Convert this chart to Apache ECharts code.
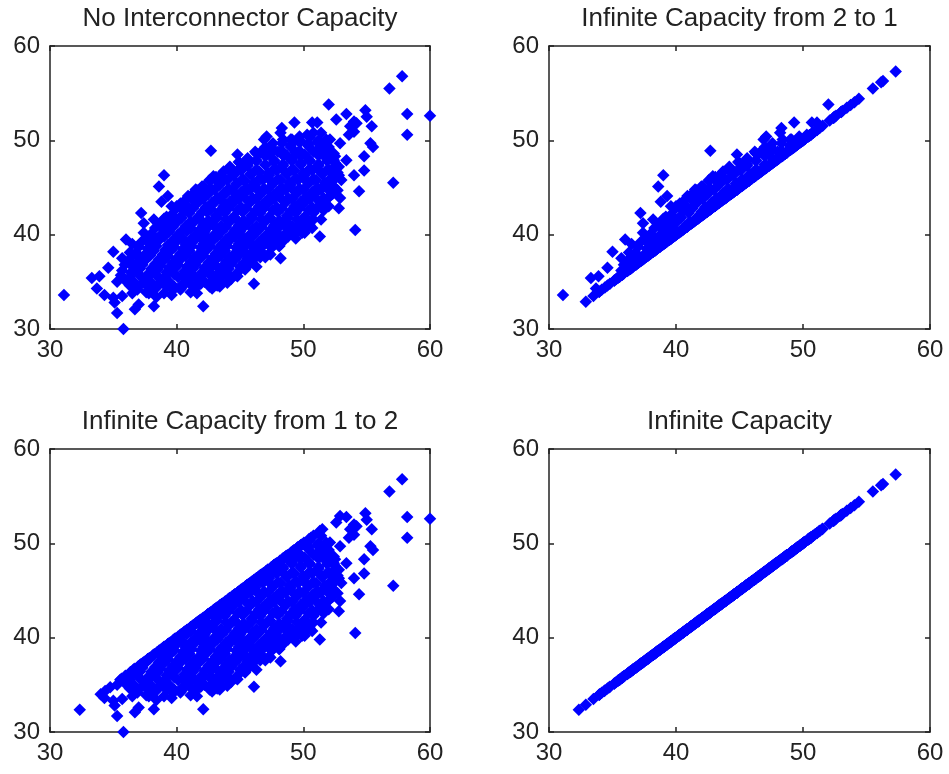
<!DOCTYPE html>
<html>
<head>
<meta charset="utf-8">
<script src="https://cdn.jsdelivr.net/npm/echarts@6/dist/echarts.min.js"></script>
<style>
  html, body { margin: 0; padding: 0; background: #fff; }
  #main { width: 949px; height: 774px; }
</style>
</head>
<body>
<div id="main"></div>
<script>
// price in zone 1 (x) vs price in zone 2 (y)
const samples = [
  // outliers and edge points
  [31.1,33.6],[35.8,30.0],[35.3,31.7],[36.7,32.1],[37.0,32.6],[38.2,32.4],[42.1,32.4],[41.6,33.8],
  [33.3,35.4],[33.9,35.6],[33.7,34.3],[34.3,33.6],[35.0,33.3],[35.1,32.8],[34.6,36.5],[35.0,38.2],
  [36.0,39.5],[36.5,39.0],[37.2,42.3],[37.4,41.2],[38.6,45.1],[39.0,46.3],[38.8,43.5],[39.3,44.1],
  [40.0,43.0],[41.5,44.8],[42.7,48.9],[42.9,46.2],[44.8,48.5],[46.2,48.8],[46.9,50.1],[47.1,50.4],
  [48.3,51.3],[49.3,51.9],[50.7,51.9],[51.1,51.9],[52.0,53.8],[52.6,52.2],[53.4,52.8],[54.0,52.0],
  [54.9,53.2],[55.0,52.5],[55.4,51.5],[56.8,55.5],[57.8,56.8],[58.2,52.8],[58.2,50.6],[60.0,52.6],
  [57.1,45.5],[54.1,40.5],[54.4,44.6],[54.8,46.8],[54.8,48.3],[54.0,46.3],[55.3,49.7],[55.5,49.3],
  [52.8,42.8],[52.9,43.9],[51.4,41.6],[51.3,39.8],[50.7,40.7],[50.1,40.2],[49.4,40.2],[48.2,37.5],
  [47.4,37.9],[48.1,38.8],[46.1,34.8],[44.8,35.6],[45.1,36.6],[43.4,34.5],[42.8,34.3],[41.8,34.9],
  [40.3,34.2],[39.6,33.6],[38.4,33.4],[37.8,33.8],[36.7,34.2],[36.5,33.8],[35.7,33.5],[35.3,35.0],
  [52.6,46.5],[52.4,47.9],[53.4,47.9],[52.8,47.2],[51.7,48.3],[52.0,49.3],[52.9,49.7],[52.1,50.1],
  [51.3,49.7],[53.7,51.5],[54.0,50.9],[53.6,50.6],[54.2,51.8],[52.4,48.6],[53.0,45.8],[52.4,45.1],
  [52.1,44.1],[50.3,40.9],[49.9,40.5],[49.0,40.9],[47.9,40.2],[47.4,38.8],[46.1,38.8],[45.4,38.1],
  [44.5,37.3],[43.2,36.6],[42.9,35.6],[40.8,35.6],[39.2,34.5],[38.4,34.5],[37.4,34.9],[36.6,36.6],
  [35.7,37.5],[36.3,38.1],[37.4,40.2],[38.0,40.0],[38.2,41.6],[39.2,41.9],[39.6,43.0],[40.3,43.3],
  [40.9,44.1],[41.6,44.4],[42.1,45.1],[42.6,45.8],[43.4,46.2],[44.2,47.2],[45.0,47.6],[45.5,47.9],
  [46.3,48.6],[47.0,49.3],[47.6,49.7],[48.2,50.8],[48.4,50.1],[49.0,50.1],[49.7,50.4],[50.3,50.6],
  [50.8,50.8],[51.4,50.8],[51.8,50.1],
  // dense core
  [36.9,34.2],[37.6,33.9],[38.3,34.3],[39.0,33.8],[39.7,34.1],[40.4,34.4],[41.1,33.9],[41.6,34.5],[43.2,34.6],[44.0,34.9],
  [36.3,34.6],[37.0,34.5],[37.7,34.7],[38.4,34.4],[39.1,34.7],[39.8,34.5],[40.5,34.8],[41.2,34.6],[41.9,34.8],[42.6,34.5],[43.5,34.9],
  [35.9,35.2],[36.6,35.0],[37.3,35.4],[38.0,34.9],[38.7,35.3],[39.4,35.0],[40.1,35.5],[40.8,35.1],[41.5,35.4],[42.2,35.0],[42.9,35.3],[43.6,35.6],[44.3,35.3],
  [35.6,35.7],[36.3,35.5],[37.0,35.8],[37.7,35.4],[38.4,35.7],[39.1,35.5],[39.8,35.8],[40.5,35.6],[41.2,35.8],[41.9,35.5],[42.6,35.8],[43.3,35.6],[44.0,35.9],[44.7,35.7],
  [35.7,36.2],[36.4,36.0],[37.1,36.4],[37.8,35.9],[38.5,36.3],[39.2,36.0],[39.9,36.5],[40.6,36.1],[41.3,36.4],[42.0,36.0],[42.7,36.5],[43.4,36.1],[44.1,36.4],[44.8,36.0],[45.4,36.3],
  [35.9,36.8],[36.6,36.5],[37.3,36.8],[38.0,36.4],[38.7,36.7],[39.4,36.5],[40.1,36.8],[40.8,36.6],[41.5,36.8],[42.2,36.5],[42.9,36.8],[43.6,36.6],[44.3,36.9],[45.0,36.6],[45.7,36.8],[46.3,36.6],
  [36.2,37.2],[36.9,37.0],[37.6,37.4],[38.3,36.9],[39.0,37.3],[39.7,37.0],[40.4,37.5],[41.1,37.1],[41.8,37.4],[42.5,37.0],[43.2,37.5],[43.9,37.1],[44.6,37.4],[45.3,37.0],[46.0,37.3],[46.6,37.6],
  [36.5,37.7],[37.2,37.5],[37.9,37.8],[38.6,37.4],[39.3,37.7],[40.0,37.5],[40.7,37.8],[41.4,37.6],[42.1,37.8],[42.8,37.5],[43.5,37.8],[44.2,37.6],[44.9,37.8],[45.6,37.5],[46.3,37.8],[47.0,37.6],
  [36.8,38.1],[37.5,37.9],[38.2,38.3],[38.9,37.9],[39.6,38.4],[40.3,38.0],[41.0,38.3],[41.7,37.9],[42.4,38.4],[43.1,38.0],[43.8,38.3],[44.5,37.9],[45.2,38.4],[45.9,38.0],[46.6,38.3],[47.3,38.0],
  [37.0,38.7],[37.7,38.5],[38.4,38.8],[39.1,38.4],[39.8,38.7],[40.5,38.5],[41.2,38.8],[41.9,38.6],[42.6,38.8],[43.3,38.5],[44.0,38.8],[44.7,38.6],[45.4,38.8],[46.1,38.5],[46.8,38.8],[47.5,38.6],[48.1,38.8],
  [37.2,39.2],[37.9,39.0],[38.6,39.4],[39.3,38.9],[40.0,39.3],[40.7,39.0],[41.4,39.4],[42.1,39.0],[42.8,39.3],[43.5,38.9],[44.2,39.4],[44.9,39.0],[45.6,39.3],[46.3,38.9],[47.0,39.4],[47.7,39.0],[48.4,39.3],
  [37.6,39.7],[38.3,39.5],[39.0,39.8],[39.7,39.4],[40.4,39.7],[41.1,39.5],[41.8,39.8],[42.5,39.6],[43.2,39.8],[43.9,39.5],[44.6,39.8],[45.3,39.6],[46.0,39.8],[46.7,39.5],[47.4,39.8],[48.1,39.6],[48.8,39.8],[49.4,39.6],
  [38.0,40.1],[38.7,39.9],[39.4,40.3],[40.1,40.0],[40.8,40.4],[41.5,40.0],[42.2,40.3],[42.9,39.9],[43.6,40.4],[44.3,40.0],[45.0,40.3],[45.7,39.9],[46.4,40.4],[47.1,40.0],[47.8,40.3],[48.5,40.0],[49.2,40.4],[49.9,40.2],
  [38.3,40.7],[39.0,40.5],[39.7,40.8],[40.4,40.4],[41.1,40.7],[41.8,40.5],[42.5,40.8],[43.2,40.6],[43.9,40.8],[44.6,40.5],[45.3,40.8],[46.0,40.6],[46.7,40.8],[47.4,40.5],[48.1,40.8],[48.8,40.6],[49.5,40.8],[50.2,40.6],
  [38.6,41.1],[39.3,40.9],[40.0,41.3],[40.7,40.9],[41.4,41.4],[42.1,41.0],[42.8,41.3],[43.5,40.9],[44.2,41.4],[44.9,41.0],[45.6,41.3],[46.3,40.9],[47.0,41.4],[47.7,41.0],[48.4,41.3],[49.1,40.9],[49.8,41.3],[50.5,41.0],
  [39.0,41.7],[39.7,41.5],[40.4,41.8],[41.1,41.4],[41.8,41.7],[42.5,41.5],[43.2,41.8],[43.9,41.6],[44.6,41.8],[45.3,41.5],[46.0,41.8],[46.7,41.6],[47.4,41.8],[48.1,41.5],[48.8,41.8],[49.5,41.6],[50.2,41.8],[50.8,41.6],
  [39.6,42.1],[40.3,41.9],[41.0,42.3],[41.7,41.9],[42.4,42.4],[43.1,42.0],[43.8,42.3],[44.5,41.9],[45.2,42.4],[45.9,42.0],[46.6,42.3],[47.3,41.9],[48.0,42.4],[48.7,42.0],[49.4,42.3],[50.1,41.9],[50.8,42.3],
  [39.9,42.7],[40.6,42.5],[41.3,42.8],[42.0,42.4],[42.7,42.7],[43.4,42.5],[44.1,42.8],[44.8,42.6],[45.5,42.8],[46.2,42.5],[46.9,42.8],[47.6,42.6],[48.3,42.8],[49.0,42.5],[49.7,42.8],[50.4,42.6],[51.1,42.8],[51.6,42.6],
  [40.2,43.1],[40.9,42.9],[41.6,43.3],[42.3,42.9],[43.0,43.4],[43.7,43.0],[44.4,43.3],[45.1,42.9],[45.8,43.4],[46.5,43.0],[47.2,43.3],[47.9,42.9],[48.6,43.4],[49.3,43.0],[50.0,43.3],[50.7,42.9],[51.4,43.3],[52.0,43.0],
  [40.7,43.7],[41.4,43.5],[42.1,43.8],[42.8,43.4],[43.5,43.7],[44.2,43.5],[44.9,43.8],[45.6,43.6],[46.3,43.8],[47.0,43.5],[47.7,43.8],[48.4,43.6],[49.1,43.8],[49.8,43.5],[50.5,43.8],[51.2,43.6],[51.9,43.8],
  [41.1,44.1],[41.8,43.9],[42.5,44.3],[43.2,43.9],[43.9,44.4],[44.6,44.0],[45.3,44.3],[46.0,43.9],[46.7,44.4],[47.4,44.0],[48.1,44.3],[48.8,43.9],[49.5,44.4],[50.2,44.0],[50.9,44.3],[51.6,43.9],[52.3,44.3],
  [41.6,44.7],[42.3,44.5],[43.0,44.8],[43.7,44.4],[44.4,44.7],[45.1,44.5],[45.8,44.8],[46.5,44.6],[47.2,44.8],[47.9,44.5],[48.6,44.8],[49.3,44.6],[50.0,44.8],[50.7,44.5],[51.4,44.8],[52.1,44.6],[52.7,44.7],
  [42.0,45.1],[42.7,44.9],[43.4,45.3],[44.1,44.9],[44.8,45.4],[45.5,45.0],[46.2,45.3],[46.9,44.9],[47.6,45.4],[48.3,45.0],[49.0,45.3],[49.7,44.9],[50.4,45.4],[51.1,45.0],[51.8,45.3],[52.5,44.9],
  [42.6,45.7],[43.3,45.5],[44.0,45.8],[44.7,45.4],[45.4,45.7],[46.1,45.5],[46.8,45.8],[47.5,45.6],[48.2,45.8],[48.9,45.5],[49.6,45.8],[50.3,45.6],[51.0,45.8],[51.7,45.5],[52.4,45.8],
  [43.1,46.1],[43.8,45.9],[44.5,46.3],[45.2,45.9],[45.9,46.4],[46.6,46.0],[47.3,46.3],[48.0,45.9],[48.7,46.4],[49.4,46.0],[50.1,46.3],[50.8,45.9],[51.5,46.4],[52.2,46.0],[52.8,46.3],
  [43.7,46.7],[44.4,46.5],[45.1,46.8],[45.8,46.4],[46.5,46.7],[47.2,46.5],[47.9,46.8],[48.6,46.6],[49.3,46.8],[50.0,46.5],[50.7,46.8],[51.4,46.6],[52.1,46.8],[52.7,46.6],
  [44.2,47.1],[44.9,46.9],[45.6,47.3],[46.3,46.9],[47.0,47.4],[47.7,47.0],[48.4,47.3],[49.1,46.9],[49.8,47.4],[50.5,47.0],[51.2,47.3],[51.9,46.9],[52.6,47.3],
  [44.9,47.7],[45.6,47.5],[46.3,47.8],[47.0,47.4],[47.7,47.7],[48.4,47.5],[49.1,47.8],[49.8,47.6],[50.5,47.8],[51.2,47.5],[51.9,47.8],[52.5,47.6],
  [45.6,48.1],[46.3,47.9],[47.0,48.3],[47.7,47.9],[48.4,48.4],[49.1,48.0],[49.8,48.3],[50.5,47.9],[51.2,48.4],[51.9,48.0],[52.5,48.3],
  [46.6,48.7],[47.3,48.5],[48.0,48.8],[48.7,48.4],[49.4,48.7],[50.1,48.5],[50.8,48.8],[51.5,48.6],[52.1,48.8],
  [47.6,49.1],[48.3,48.9],[49.0,49.3],[49.7,48.9],[50.4,49.4],[51.1,49.0],[51.8,49.3],
  [48.3,49.7],[49.0,49.5],[49.7,49.8],[50.4,49.6],[51.1,49.8],[51.7,49.6],
  [49.1,50.1],[49.8,49.9],[50.5,50.3],[51.2,50.0]
];

const panelTitles = [
  'No Interconnector Capacity',
  'Infinite Capacity from 2 to 1',
  'Infinite Capacity from 1 to 2',
  'Infinite Capacity'
];
const tickValues = [30, 40, 50, 60];

// the other panels show the same samples: where flow is allowed the two prices meet at their mean
const meet = p => (p[0] + p[1]) / 2;
const panelData = [
  samples,
  samples.map(p => (p[1] >= p[0] ? p : [meet(p), meet(p)])),
  samples.map(p => (p[1] <= p[0] ? p : [meet(p), meet(p)])),
  samples.map(p => [meet(p), meet(p)])
];

const grids = [
  { left: 50, top: 46, width: 380, height: 283 },
  { left: 549, top: 46, width: 381, height: 283 },
  { left: 50, top: 449, width: 380, height: 283 },
  { left: 549, top: 449, width: 381, height: 283 }
];

const font = 'Liberation Sans, Arial, sans-serif';
const lineStyle = { color: '#222', width: 1.5 };

const xAxes = [];
const yAxes = [];
grids.forEach((g, i) => {
    ['bottom', 'top'].forEach(pos => {
        xAxes.push({
            gridIndex: i, type: 'value', position: pos,
            min: tickValues[0], max: tickValues[tickValues.length - 1], interval: 10,
            axisLine: { show: true, onZero: false, lineStyle },
            axisTick: { show: true, inside: true, length: 5, lineStyle },
            axisLabel: { show: pos === 'bottom', color: '#222', fontSize: 24, fontFamily: font, margin: 9 },
            splitLine: { show: false }
        });
    });
    ['left', 'right'].forEach(pos => {
        yAxes.push({
            gridIndex: i, type: 'value', position: pos,
            min: tickValues[0], max: tickValues[tickValues.length - 1], interval: 10,
            axisLine: { show: true, onZero: false, lineStyle },
            axisTick: { show: true, inside: true, length: 5, lineStyle },
            axisLabel: { show: pos === 'left', color: '#222', fontSize: 24, fontFamily: font, margin: 10 },
            splitLine: { show: false }
        });
    });
});

const chart = echarts.init(document.getElementById('main'));
chart.setOption({
    animation: false,
    backgroundColor: '#fff',
    title: panelTitles.map((t, i) => ({
        text: t,
        left: grids[i].left + grids[i].width / 2 - 5,
        top: grids[i].top - 45,
        textAlign: 'center',
        textStyle: { fontSize: 26, fontWeight: 'normal', color: '#222', fontFamily: font }
    })),
    grid: grids,
    xAxis: xAxes,
    yAxis: yAxes,
    series: panelData.map((d, i) => ({
        type: 'scatter',
        xAxisIndex: i * 2,
        yAxisIndex: i * 2,
        data: d,
        symbol: 'diamond',
        symbolSize: 12.5,
        itemStyle: { color: '#0000ff', opacity: 1 }
    }))
});
</script>
</body>
</html>
